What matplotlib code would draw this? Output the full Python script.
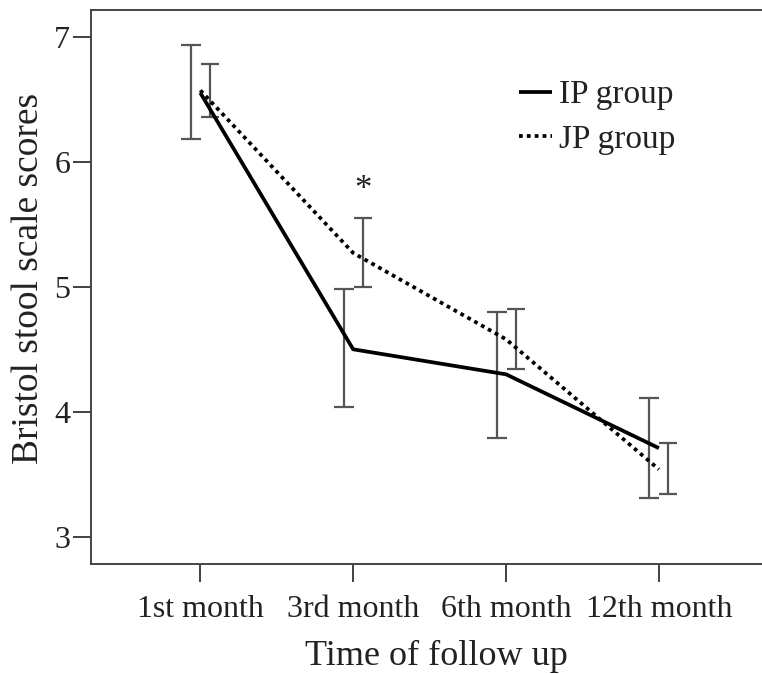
import matplotlib
matplotlib.use("Agg")
import matplotlib.pyplot as plt
import numpy as np

categories = ["1st month", "3rd month", "6th month", "12th month"]
ip_mean = [6.55, 4.50, 4.30, 3.71]
ip_low = [6.18, 4.04, 3.79, 3.31]
ip_high = [6.93, 4.98, 4.80, 4.11]
jp_mean = [6.57, 5.27, 4.58, 3.54]
jp_low = [6.36, 5.00, 4.34, 3.34]
jp_high = [6.78, 5.55, 4.82, 3.75]
y_ticks = [3, 4, 5, 6, 7]

plt.rcParams['font.family'] = ['Liberation Serif', 'DejaVu Serif']

fig = plt.figure(figsize=(7.62, 6.74), dpi=100)
ax_left, ax_right = 91, 782
ax = fig.add_axes([ax_left/762, 1 - 564/674, (ax_right - ax_left)/762, (564 - 10)/674])

x = np.arange(len(categories))
off = 0.062
txt = '#222222'
ebc = '#555555'

ip_mean_a = np.array(ip_mean)
jp_mean_a = np.array(jp_mean)
ax.errorbar(x - off, ip_mean_a, yerr=[ip_mean_a - np.array(ip_low), np.array(ip_high) - ip_mean_a],
            fmt='none', ecolor=ebc, elinewidth=1.6, capsize=7.2, capthick=1.6)
ax.errorbar(x + off, jp_mean_a, yerr=[jp_mean_a - np.array(jp_low), np.array(jp_high) - jp_mean_a],
            fmt='none', ecolor=ebc, elinewidth=1.6, capsize=6.5, capthick=1.6)
ax.plot(x, ip_mean, color='black', lw=2.7, solid_capstyle='butt', label='IP group')
ax.plot(x, jp_mean, color='black', lw=2.7, linestyle=(0, (1, 1.1)), label='JP group')

ax.text(1 + off, 5.77, '*', ha='center', va='center', fontsize=25, color=txt)

ax.set_xlim(-0.715, 3.805)
ax.set_ylim(2.784, 7.212)
ax.set_xticks(x)
ax.set_xticklabels(categories)
ax.set_yticks(y_ticks)
ax.tick_params(axis='both', labelsize=23, colors='#333333', labelcolor=txt, length=13, width=1.3)
ax.tick_params(axis='x', pad=9)
ax.tick_params(axis='y', pad=2)
for s in ['left', 'bottom', 'top']:
    ax.spines[s].set_color('#444444')
    ax.spines[s].set_linewidth(1.4)
ax.spines['right'].set_visible(False)

ax.set_xlabel('Time of follow up', fontsize=26, color=txt, labelpad=12)
ax.set_ylabel('Bristol stool scale scores', fontsize=27, color=txt)
ax.yaxis.set_label_coords((46 - ax_left)/(ax_right - ax_left), (564 - 278)/554)

leg = ax.legend(loc='upper left', bbox_to_anchor=(519/762, 1 - 80/674), bbox_transform=fig.transFigure,
                frameon=False, fontsize=24, handlelength=1.0, handletextpad=0.2, labelspacing=0.42,
                borderpad=0, borderaxespad=0)
for t in leg.get_texts():
    t.set_color(txt)

fig.savefig('out.png', dpi=100)
